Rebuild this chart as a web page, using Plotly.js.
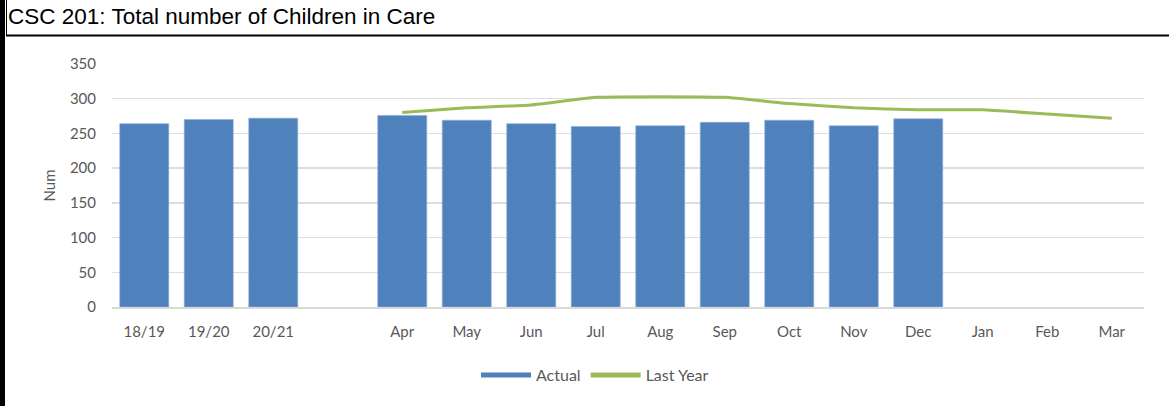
<!DOCTYPE html>
<html>
<head>
<meta charset="utf-8">
<script src="https://cdn.plot.ly/plotly-3.0.1.min.js"></script>
<style>html,body{margin:0;padding:0;background:#fff;}#chart{width:1169px;height:406px;}</style>
</head>
<body>
<div id="chart"></div>
<script>
const categories = ["18/19","19/20","20/21"," ","Apr","May","Jun","Jul","Aug","Sep","Oct","Nov","Dec","Jan","Feb","Mar"];
const actual = [264, 270, 272, null, 276, 269, 264, 260, 261, 266, 269, 261, 271, null, null, null];
const lastYear = [null, null, null, null, 280, 287, 291, 302, 303, 302, 293, 287, 284, 284, 278, 272];
const yTicks = [0, 50, 100, 150, 200, 250, 300, 350];

const W = 1169, H = 406, L = 112, R = 25, T = 64, B = 99;
const pw = W - L - R, ph = H - T - B;
const px = v => (v - L) / pw;
const py = v => (H - B - v) / ph;

const traces = [
  {type: 'bar', name: 'Actual', x: categories, y: actual, showlegend: false,
   marker: {color: '#4F81BD', line: {color: '#8EAEDB', width: 0.6}}},
  {type: 'scatter', mode: 'lines', name: 'Actual', x: [categories[0]], y: [null],
   line: {color: '#4F81BD', width: 10}, showlegend: true, hoverinfo: 'skip'},
  {type: 'scatter', mode: 'lines', name: 'Last Year', x: categories, y: lastYear,
   line: {color: '#9BBB59', width: 3, shape: 'spline', smoothing: 0.4}, connectgaps: false}
];

const tickFont = {family: 'Lato, "Open Sans", sans-serif', size: 15, color: '#595959'};

const layout = {
  width: W, height: H,
  margin: {l: L, r: R, t: T, b: B},
  paper_bgcolor: '#fff', plot_bgcolor: '#fff',
  bargap: 0.24,
  showlegend: true,
  title: {text: 'CSC 201: Total number of Children in Care', xref: 'container', yref: 'container',
          x: 8 / W, xanchor: 'left', y: 1 - 8 / H, yanchor: 'top',
          font: {family: '"Liberation Sans", Arial, sans-serif', size: 22.5, color: '#000'}},
  xaxis: {type: 'category', categoryorder: 'array', categoryarray: categories,
          tickfont: tickFont, ticks: 'outside', ticklen: 10, tickcolor: 'rgba(0,0,0,0)',
          showline: true, linecolor: '#D9D9D9', linewidth: 1.5, showgrid: false, fixedrange: true},
  yaxis: {range: [0, 350], tickvals: yTicks, tickfont: tickFont, showgrid: true, gridcolor: '#DDDDDD',
          gridwidth: 1.5, zeroline: false, ticks: 'outside', ticklen: 12, tickcolor: 'rgba(0,0,0,0)',
          title: {text: 'Num', font: {family: 'Lato, "Open Sans", sans-serif', size: 15, color: '#595959'}, standoff: 10},
          fixedrange: true},
  legend: {orientation: 'h', x: px(595), xanchor: 'center', y: py(375), yanchor: 'middle',
           itemwidth: 50, itemsizing: 'constant',
           font: {family: 'Lato, "Open Sans", sans-serif', size: 16, color: '#595959'}, traceorder: 'normal'},
  shapes: [
    {type: 'rect', xref: 'paper', yref: 'paper', x0: px(0), x1: px(5), y0: py(H), y1: py(0),
     fillcolor: '#000', line: {width: 0}},
    {type: 'line', xref: 'paper', yref: 'paper', x0: px(6.5), x1: px(6.5), y0: py(36), y1: py(0),
     line: {color: '#000', width: 1}},
    {type: 'line', xref: 'paper', yref: 'paper', x0: px(6), x1: px(W), y0: py(35.5), y1: py(35.5),
     line: {color: '#000', width: 2}}
  ]
};

Plotly.newPlot('chart', traces, layout, {displayModeBar: false, staticPlot: true});
</script>
</body>
</html>
